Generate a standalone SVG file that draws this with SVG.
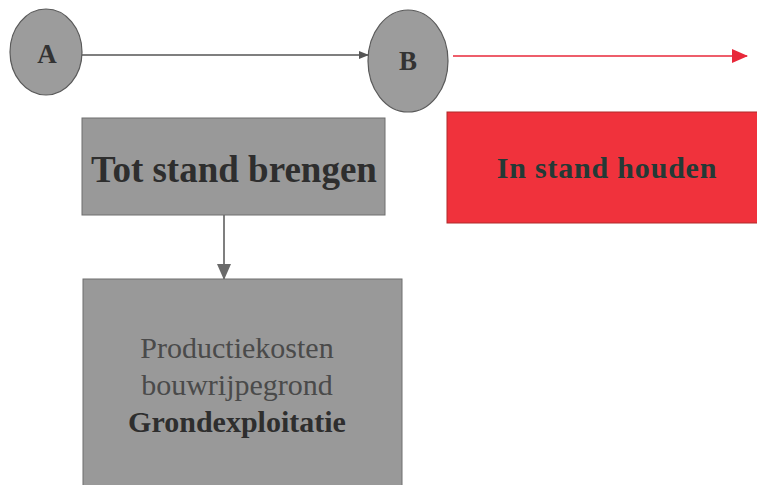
<svg xmlns="http://www.w3.org/2000/svg" width="757" height="485" viewBox="0 0 757 485">
<style>
.node{fill:#9c9c9c;stroke:#5a5a5a;stroke-width:1.2}
.box{fill:#999999;stroke:#6e6e6e;stroke-width:1}
.t{font-family:"Liberation Serif","Times New Roman",serif;text-anchor:middle}
.b{font-weight:bold}
</style>
<defs>
<marker id="ah" markerWidth="10" markerHeight="10" refX="9" refY="5" orient="auto" markerUnits="userSpaceOnUse" viewBox="0 0 10 10"><path d="M0,1 L10,5 L0,9 Z" fill="#555"/></marker>
<marker id="ahr" markerWidth="16" markerHeight="16" refX="15" refY="8" orient="auto" markerUnits="userSpaceOnUse" viewBox="0 0 16 16"><path d="M0,1 L16,8 L0,15 Z" fill="#e8283a"/></marker>
<marker id="ahd" markerWidth="16" markerHeight="16" refX="15" refY="8" orient="auto" markerUnits="userSpaceOnUse" viewBox="0 0 16 16"><path d="M0,1 L16,8 L0,15 Z" fill="#6a6a6a"/></marker>
</defs>
<g id="connectors">
<line x1="82" y1="55" x2="368" y2="55" stroke="#555" stroke-width="1.3" marker-end="url(#ah)"/>
<line x1="453" y1="56" x2="747" y2="56" stroke="#e8283a" stroke-width="1.5" marker-end="url(#ahr)"/>
<line x1="224" y1="215" x2="224" y2="279" stroke="#555" stroke-width="1.5" marker-end="url(#ahd)"/>
</g>
<g id="nodeA">
<ellipse class="node" cx="46" cy="52" rx="36" ry="43"/>
<text class="t b" x="47" y="63" font-size="27" fill="#333">A</text>
</g>
<g id="nodeB">
<ellipse class="node" cx="408" cy="61" rx="40" ry="51"/>
<text class="t b" x="408" y="70" font-size="27" fill="#333">B</text>
</g>
<g id="totstand">
<rect class="box" x="82" y="118" width="303" height="97"/>
<text class="t b" x="234" y="182" font-size="37" fill="#2e2e2e">Tot stand brengen</text>
</g>
<g id="instand">
<rect x="447" y="112" width="312" height="111" fill="#f0323c" stroke="#b02a2a" stroke-width="1"/>
<text class="t b" x="607" y="178" font-size="30" letter-spacing="0.8" fill="#233a36">In stand houden</text>
</g>
<g id="grondexploitatie">
<rect class="box" x="83" y="279" width="319" height="210"/>
<text class="t" x="237" y="358" font-size="30" fill="#4a4a4a">Productiekosten</text>
<text class="t" x="237" y="395" font-size="30" fill="#4a4a4a">bouwrijpegrond</text>
<text class="t b" x="237" y="432" font-size="30" fill="#2e2e2e">Grondexploitatie</text>
</g>
</svg>
